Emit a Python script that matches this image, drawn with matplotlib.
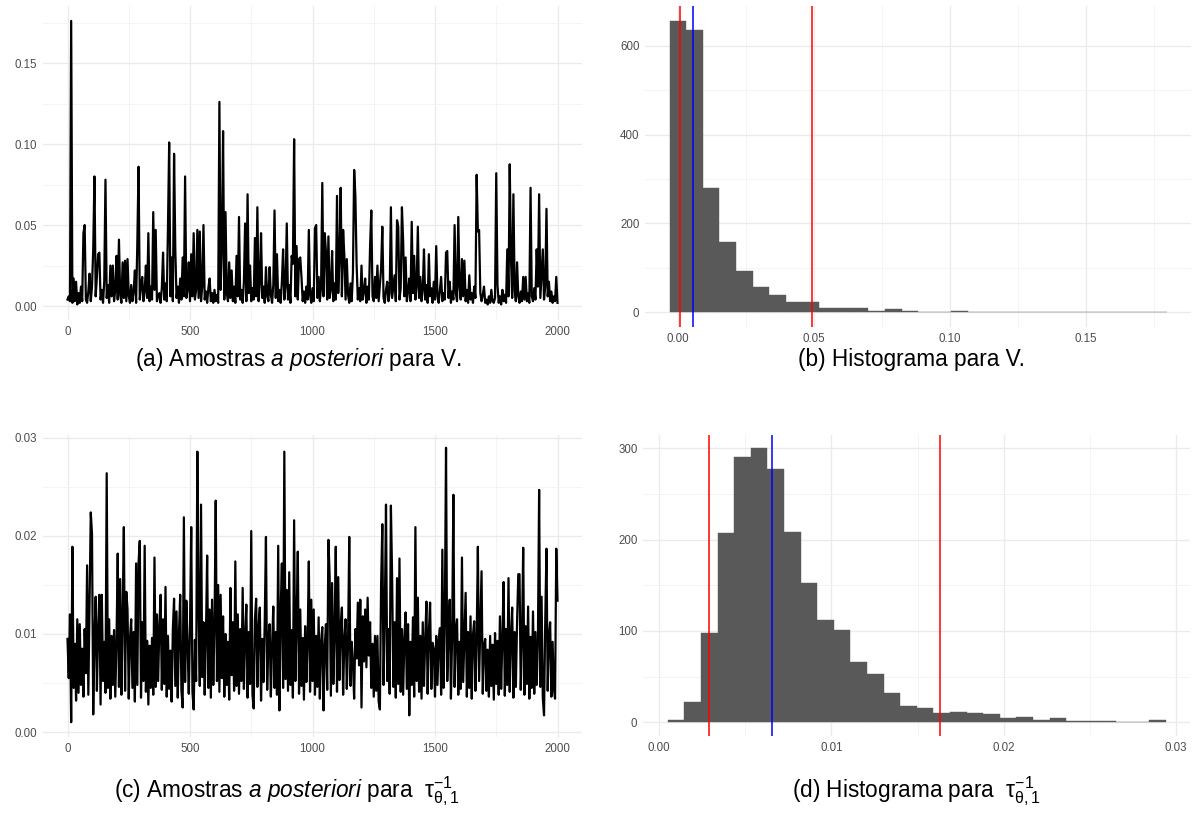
import numpy as np
import matplotlib
matplotlib.use('Agg')
import matplotlib.pyplot as plt

plt.rcParams['font.family'] = ['Liberation Sans', 'DejaVu Sans']
plt.rcParams['mathtext.fontset'] = 'custom'
plt.rcParams['mathtext.rm'] = 'Liberation Sans'
plt.rcParams['mathtext.it'] = 'Liberation Sans:italic'
plt.rcParams['mathtext.bf'] = 'Liberation Sans:bold'

# --- posterior samples of V (every 5th iteration) ---
v_trace = [
    0.004, 0.006, 0.003, 0.176, 0.002, 0.017, 0.003, 0.015, 0.001, 0.008, 0.002, 0.012, 0.003, 0.045, 0.050, 0.004, 0.002, 0.009, 0.020, 0.003,
    0.012, 0.035, 0.080, 0.006, 0.018, 0.032, 0.033, 0.004, 0.010, 0.002, 0.015, 0.078, 0.005, 0.013, 0.002, 0.025, 0.006, 0.025, 0.003, 0.010,
    0.031, 0.004, 0.041, 0.007, 0.002, 0.027, 0.005, 0.028, 0.003, 0.029, 0.006, 0.002, 0.013, 0.003, 0.009, 0.022, 0.002, 0.039, 0.086, 0.004,
    0.012, 0.018, 0.003, 0.009, 0.025, 0.005, 0.045, 0.003, 0.012, 0.004, 0.058, 0.010, 0.047, 0.003, 0.006, 0.008, 0.002, 0.011, 0.033, 0.004,
    0.014, 0.003, 0.048, 0.101, 0.006, 0.030, 0.003, 0.094, 0.035, 0.005, 0.012, 0.002, 0.017, 0.004, 0.030, 0.006, 0.080, 0.005, 0.010, 0.027,
    0.003, 0.032, 0.006, 0.045, 0.004, 0.010, 0.047, 0.005, 0.046, 0.003, 0.012, 0.050, 0.004, 0.009, 0.002, 0.011, 0.017, 0.003, 0.008, 0.002,
    0.010, 0.003, 0.007, 0.002, 0.126, 0.010, 0.035, 0.108, 0.004, 0.058, 0.008, 0.003, 0.027, 0.005, 0.022, 0.003, 0.012, 0.002, 0.031, 0.006,
    0.055, 0.004, 0.010, 0.002, 0.015, 0.051, 0.003, 0.069, 0.008, 0.025, 0.003, 0.011, 0.004, 0.042, 0.006, 0.061, 0.003, 0.014, 0.045, 0.005,
    0.012, 0.002, 0.024, 0.006, 0.003, 0.024, 0.007, 0.002, 0.013, 0.059, 0.005, 0.032, 0.003, 0.010, 0.002, 0.015, 0.035, 0.004, 0.012, 0.051,
    0.004, 0.013, 0.002, 0.031, 0.026, 0.103, 0.006, 0.037, 0.004, 0.029, 0.030, 0.018, 0.003, 0.009, 0.002, 0.012, 0.004, 0.047, 0.007, 0.002,
    0.011, 0.003, 0.048, 0.050, 0.005, 0.018, 0.003, 0.012, 0.076, 0.006, 0.045, 0.033, 0.004, 0.043, 0.005, 0.010, 0.034, 0.003, 0.014, 0.004,
    0.068, 0.008, 0.030, 0.073, 0.006, 0.047, 0.031, 0.004, 0.029, 0.007, 0.002, 0.014, 0.003, 0.020, 0.084, 0.068, 0.026, 0.004, 0.011, 0.003,
    0.025, 0.004, 0.009, 0.017, 0.002, 0.012, 0.004, 0.037, 0.059, 0.006, 0.003, 0.018, 0.005, 0.025, 0.003, 0.013, 0.023, 0.049, 0.005, 0.002,
    0.010, 0.015, 0.003, 0.008, 0.061, 0.005, 0.012, 0.019, 0.003, 0.053, 0.049, 0.004, 0.011, 0.061, 0.040, 0.006, 0.030, 0.003, 0.009, 0.017,
    0.003, 0.052, 0.008, 0.031, 0.004, 0.012, 0.049, 0.005, 0.018, 0.003, 0.010, 0.035, 0.004, 0.013, 0.002, 0.032, 0.006, 0.011, 0.002, 0.015,
    0.004, 0.037, 0.006, 0.002, 0.010, 0.018, 0.003, 0.008, 0.004, 0.033, 0.034, 0.005, 0.015, 0.002, 0.009, 0.004, 0.050, 0.008, 0.003, 0.055,
    0.012, 0.004, 0.029, 0.006, 0.028, 0.003, 0.010, 0.002, 0.019, 0.004, 0.008, 0.002, 0.012, 0.005, 0.081, 0.046, 0.047, 0.008, 0.003, 0.007,
    0.012, 0.002, 0.004, 0.001, 0.006, 0.002, 0.010, 0.003, 0.002, 0.005, 0.082, 0.013, 0.002, 0.006, 0.001, 0.010, 0.003, 0.007, 0.002, 0.035,
    0.006, 0.0875, 0.030, 0.005, 0.069, 0.010, 0.003, 0.027, 0.006, 0.002, 0.009, 0.003, 0.018, 0.004, 0.018, 0.003, 0.008, 0.002, 0.073, 0.006,
    0.003, 0.011, 0.004, 0.035, 0.012, 0.069, 0.005, 0.020, 0.035, 0.004, 0.012, 0.060, 0.006, 0.015, 0.003, 0.009, 0.002, 0.006, 0.003, 0.018,
    0.002,
]

# --- posterior samples of tau^-1_{theta,1} (every 5th iteration) ---
tau_trace = [
    0.0095, 0.0055, 0.012, 0.001, 0.0189, 0.0045, 0.009, 0.0032, 0.0115, 0.004, 0.011, 0.0048, 0.0085, 0.0036, 0.0105, 0.006, 0.017, 0.0038, 0.013, 0.0224,
    0.0202, 0.0018, 0.0095, 0.0138, 0.0042, 0.0105, 0.014, 0.0028, 0.014, 0.0052, 0.0092, 0.004, 0.0264, 0.0045, 0.0115, 0.0034, 0.0098, 0.0048, 0.0104, 0.0036,
    0.0092, 0.0182, 0.0046, 0.0156, 0.0038, 0.0118, 0.0209, 0.0042, 0.0143, 0.0125, 0.0034, 0.0095, 0.0115, 0.0045, 0.0102, 0.0031, 0.0172, 0.0048, 0.0173, 0.0195,
    0.0035, 0.0112, 0.0052, 0.019, 0.0041, 0.0093, 0.0028, 0.0088, 0.0045, 0.0096, 0.0038, 0.0178, 0.0046, 0.012, 0.0052, 0.0108, 0.014, 0.0043, 0.0115, 0.0049,
    0.0148, 0.0036, 0.0098, 0.0044, 0.0083, 0.0031, 0.0105, 0.0136, 0.0047, 0.0123, 0.0035, 0.0101, 0.014, 0.0042, 0.0025, 0.0219, 0.0051, 0.0134, 0.009, 0.0039,
    0.0108, 0.0209, 0.0041, 0.0023, 0.0094, 0.0052, 0.0286, 0.0124, 0.0047, 0.0232, 0.0056, 0.0112, 0.0038, 0.0098, 0.018, 0.0045, 0.0125, 0.0035, 0.0135, 0.0048,
    0.0108, 0.0236, 0.0052, 0.015, 0.0041, 0.014, 0.0055, 0.0118, 0.0036, 0.010, 0.0048, 0.0092, 0.0033, 0.0147, 0.0058, 0.0112, 0.0042, 0.0174, 0.0047, 0.012,
    0.0039, 0.0105, 0.0052, 0.0147, 0.0044, 0.0098, 0.013, 0.0035, 0.0102, 0.0049, 0.0205, 0.0038, 0.0024, 0.0115, 0.0136, 0.0046, 0.0108, 0.0127, 0.0032, 0.0095,
    0.0051, 0.0112, 0.0199, 0.0043, 0.0096, 0.011, 0.0036, 0.0088, 0.0128, 0.0045, 0.0102, 0.0038, 0.019, 0.0022, 0.0122, 0.0172, 0.0045, 0.0286, 0.0054, 0.0145,
    0.0042, 0.0163, 0.0048, 0.0104, 0.0035, 0.0216, 0.0052, 0.0112, 0.0184, 0.0039, 0.0125, 0.0047, 0.0096, 0.0033, 0.0108, 0.0051, 0.0092, 0.0174, 0.0041, 0.0135,
    0.0052, 0.0125, 0.0038, 0.0098, 0.0046, 0.0117, 0.0034, 0.0092, 0.0107, 0.0022, 0.0088, 0.011, 0.0043, 0.0196, 0.0158, 0.0037, 0.0152, 0.0049, 0.0102, 0.0189,
    0.0041, 0.0158, 0.0053, 0.0108, 0.0127, 0.0038, 0.0095, 0.0115, 0.0044, 0.0088, 0.0199, 0.0047, 0.0092, 0.007, 0.0034, 0.0105, 0.0075, 0.0132, 0.0068, 0.0135,
    0.0025, 0.0118, 0.0072, 0.0125, 0.0066, 0.0137, 0.0078, 0.0112, 0.0045, 0.009, 0.0036, 0.0098, 0.0042, 0.0098, 0.0031, 0.0023, 0.015, 0.0212, 0.0048, 0.0118,
    0.0232, 0.0052, 0.0105, 0.0039, 0.0231, 0.0158, 0.0046, 0.0112, 0.0035, 0.0157, 0.0049, 0.0177, 0.0041, 0.0105, 0.0038, 0.0096, 0.0122, 0.0044, 0.011, 0.0017,
    0.0092, 0.0048, 0.0117, 0.0036, 0.0209, 0.0052, 0.0137, 0.0041, 0.0098, 0.0034, 0.0112, 0.0047, 0.0094, 0.0133, 0.0039, 0.0102, 0.0132, 0.0044, 0.0091, 0.0085,
    0.0036, 0.0098, 0.0048, 0.0092, 0.0106, 0.0038, 0.0186, 0.0045, 0.0112, 0.029, 0.0052, 0.0102, 0.0135, 0.0034, 0.0098, 0.0242, 0.0046, 0.0105, 0.0115, 0.0038,
    0.0092, 0.0044, 0.0178, 0.0051, 0.0096, 0.0142, 0.0036, 0.0102, 0.0045, 0.0118, 0.0034, 0.0099, 0.0113, 0.0042, 0.0095, 0.0189, 0.0052, 0.0108, 0.0164, 0.0039,
    0.0088, 0.0095, 0.0042, 0.0084, 0.0036, 0.0098, 0.0047, 0.0089, 0.0033, 0.0101, 0.0049, 0.0093, 0.0038, 0.0118, 0.0044, 0.0096, 0.0153, 0.0037, 0.0105, 0.0048,
    0.0157, 0.0041, 0.0098, 0.0127, 0.0035, 0.0102, 0.0046, 0.0112, 0.0161, 0.0161, 0.0043, 0.0095, 0.0188, 0.0038, 0.0108, 0.0049, 0.0128, 0.0034, 0.0097, 0.0045,
    0.0123, 0.0039, 0.0102, 0.0048, 0.0091, 0.0247, 0.0046, 0.0138, 0.0035, 0.0017, 0.0114, 0.0187, 0.0042, 0.0098, 0.0112, 0.0036, 0.0092, 0.0045, 0.0034, 0.0187,
    0.0134,
]
iterations = np.arange(0, 2001, 5)

# --- histogram of V: 30 bins ---
v_bin_start = -0.0031
v_bin_width = 0.00609
v_counts = [657, 637, 279, 157, 92, 56, 38, 22, 22, 8, 10, 10, 3, 6, 3,
            1, 1, 3, 0, 1, 0, 0, 1, 0, 0, 0, 0, 0, 0, 1]
v_lines_red = [0.0006, 0.0494]
v_line_blue = 0.0054

# --- histogram of tau^-1: 30 bins ---
t_bin_start = 0.00051
t_bin_width = 0.000963
t_counts = [2, 22, 98, 207, 290, 300, 277, 208, 152, 112, 101, 66, 53, 32, 18,
            16, 10, 11, 10, 9, 5, 6, 2, 5, 1, 1, 1, 0, 0, 3]
t_lines_red = [0.00289, 0.01631]
t_line_blue = 0.00655

captions = [
    r'(a) Amostras $\mathit{a\ posteriori}$ para V.',
    r'(b) Histograma para V.',
    r'(c) Amostras $\mathit{a\ posteriori}$ para  $\mathrm{\tau}_{\mathrm{\theta},1}^{-1}$',
    r'(d) Histograma para  $\mathrm{\tau}_{\mathrm{\theta},1}^{-1}$',
]

W, H = 1192, 819
fig = plt.figure(figsize=(W / 100, H / 100), dpi=100)


def add_ax(left, top, right, bottom):
    return fig.add_axes([left / W, 1 - bottom / H, (right - left) / W, (bottom - top) / H])


def style(ax, xmaj, xmin, ymaj, ymin, xfmt, yfmt):
    for s in ax.spines.values():
        s.set_visible(False)
    ax.set_xticks(xmaj)
    ax.set_xticks(xmin, minor=True)
    ax.set_yticks(ymaj)
    ax.set_yticks(ymin, minor=True)
    ax.set_xticklabels([xfmt.format(v) for v in xmaj])
    ax.set_yticklabels([yfmt.format(v) for v in ymaj])
    ax.tick_params(which='both', length=0, labelsize=8.3, labelcolor='#4D4D4D', pad=4)
    ax.grid(which='major', color='#EBEBEB', lw=1.0)
    ax.grid(which='minor', color='#F2F2F2', lw=0.6)
    ax.set_axisbelow(True)


# (a) trace of V
ax = add_ax(43, 6, 582, 320)
ax.plot(iterations, v_trace, color='black', lw=1.6)
ax.set_xlim(-100, 2100)
ax.set_ylim(-0.0086, 0.1852)
style(ax, [0, 500, 1000, 1500, 2000], [250, 750, 1250, 1750],
      [0, 0.05, 0.10, 0.15], [0.025, 0.075, 0.125, 0.175], '{:d}', '{:.2f}')

# (b) histogram of V
ax = add_ax(645, 6, 1191, 327)
edges = v_bin_start + v_bin_width * np.arange(len(v_counts))
ax.bar(edges, v_counts, width=v_bin_width, align='edge',
       color='#595959', edgecolor='#595959', lw=0.3)
for xv in v_lines_red:
    ax.axvline(xv, color='#FF0000', lw=1.1)
ax.axvline(v_line_blue, color='#0000FF', lw=1.1)
ax.set_xlim(-0.0122, 0.1886)
ax.set_ylim(-33.8, 690)
style(ax, [0, 0.05, 0.10, 0.15], [0.025, 0.075, 0.125, 0.175],
      [0, 200, 400, 600], [100, 300, 500], '{:.2f}', '{:d}')

# (c) trace of tau^-1
ax = add_ax(43, 435, 582, 737)
ax.plot(iterations, tau_trace, color='black', lw=1.6)
ax.set_xlim(-100, 2100)
ax.set_ylim(-0.00051, 0.0303)
style(ax, [0, 500, 1000, 1500, 2000], [250, 750, 1250, 1750],
      [0, 0.01, 0.02, 0.03], [0.005, 0.015, 0.025], '{:d}', '{:.2f}')

# (d) histogram of tau^-1
ax = add_ax(643, 435, 1190, 736)
edges = t_bin_start + t_bin_width * np.arange(len(t_counts))
ax.bar(edges, t_counts, width=t_bin_width, align='edge',
       color='#595959', edgecolor='#595959', lw=0.3)
for xv in t_lines_red:
    ax.axvline(xv, color='#FF0000', lw=1.1)
ax.axvline(t_line_blue, color='#0000FF', lw=1.1)
ax.set_xlim(-0.00093, 0.0308)
ax.set_ylim(-15, 314.6)
style(ax, [0, 0.01, 0.02, 0.03], [0.005, 0.015, 0.025],
      [0, 100, 200, 300], [50, 150, 250], '{:.2f}', '{:d}')

# captions
cap_pos = [(298, 366), (911, 366), (287, 797), (916, 797)]
for (cx, cy), txt in zip(cap_pos, captions):
    fig.text(cx / W, 1 - cy / H, txt, ha='center', va='baseline',
             fontsize=16.3, color='black')

fig.savefig('out.png', dpi=100)
